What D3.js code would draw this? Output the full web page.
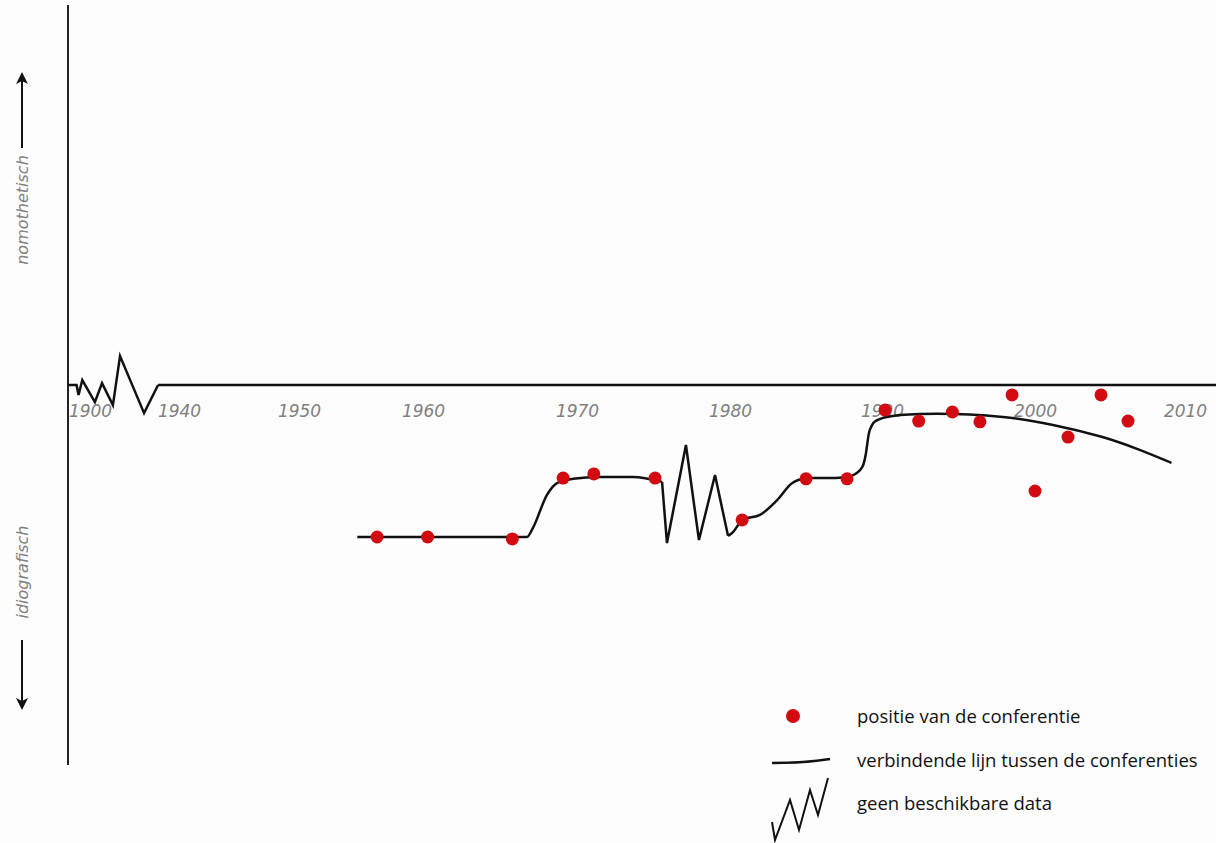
<!DOCTYPE html>
<html>
<head>
<meta charset="utf-8">
<script src="https://cdn.jsdelivr.net/npm/d3@7"></script>
<style>
  html, body { margin: 0; padding: 0; background: #fdfdfd; }
  #chart { width: 1216px; height: 843px; }
  .tick text { font-family: "DejaVu Sans", sans-serif; font-style: italic; fill: #808080; }
  .legend text { font-family: "Open Sans", sans-serif; fill: #111; }
</style>
</head>
<body>
<div id="chart"></div>
<script>
// x axis is hand drawn, so the year scale is piecewise
const yearKnots = [1890, 1900, 1940, 1950, 1960, 1970, 1980, 1990, 2000, 2010, 2013];
const tickYears = [1900, 1940, 1950, 1960, 1970, 1980, 1990, 2000, 2010];

// conferences: year, position (+ nomothetisch / - idiografisch)
const confYears = [1956.3, 1960.3, 1965.8, 1969.1, 1971.1, 1975.1, 1980.8, 1985.0, 1987.7,
  1990.2, 1992.4, 1994.6, 1996.4, 1998.5, 2000.0, 2002.2, 2004.4, 2006.2];
const confValues = [-4.0, -4.0, -4.05, -2.45, -2.34, -2.45, -3.55, -2.47, -2.47,
  -0.66, -0.95, -0.71, -0.97, -0.26, -2.79, -1.37, -0.26, -0.95];

// connecting line, part 1 (until 1975)
const line1Years = [1954.7, 1966.75, 1967.14, 1968.05, 1968.7, 1969.74, 1971.5, 1973.66, 1975.56];
const line1Values = [-4.0, -4.0, -3.76, -2.89, -2.58, -2.47, -2.42, -2.42, -2.55];

// connecting line, part 2 (from 1980)
const line2Years = [1979.87, 1980.2, 1980.85, 1981.97, 1983.1, 1984.1, 1985.0, 1985.9, 1988.0,
  1988.7, 1989.2, 1989.5, 1990.3, 1992.5, 1997.9, 2001.2, 2004.5, 2006.8, 2009.1];
const line2Values = [-3.97, -3.87, -3.55, -3.42, -3.03, -2.58, -2.45, -2.45, -2.39,
  -2.16, -1.18, -0.97, -0.84, -0.76, -0.84, -1.05, -1.37, -1.68, -2.05];

// no data: zigzags
const gapEarlyYears = [1890, 1893.9, 1894.8, 1896.5, 1902.2, 1905.4, 1910.3, 1913.5, 1924.3, 1930.6];
const gapEarlyValues = [0, 0, -0.26, 0.13, -0.45, 0.05, -0.53, 0.76, -0.74, 0];
const gapMidYears = [1975.56, 1975.88, 1977.12, 1977.97, 1979.02, 1979.87];
const gapMidValues = [-2.55, -4.16, -1.58, -4.08, -2.37, -3.97];

const legendLabels = ["positie van de conferentie", "verbindende lijn tussen de conferenties", "geen beschikbare data"];

const width = 1216, height = 843;
const svg = d3.select("#chart").append("svg")
  .attr("width", width).attr("height", height);

const x = d3.scaleLinear()
  .domain(yearKnots)
  .range([68, 90, 179, 299, 423, 577, 730, 882, 1035, 1185, 1231]);
const y = d3.scaleLinear().domain([-10, 10]).range([765, 5]);

// vertical axis
svg.append("line")
  .attr("x1", x(1890)).attr("x2", x(1890))
  .attr("y1", y(10)).attr("y2", y(-10))
  .attr("stroke", "#222").attr("stroke-width", 2);

// x axis labels
const xAxis = svg.append("g")
  .attr("transform", "translate(0," + (y(0) + 24) + ")")
  .call(d3.axisBottom(x).tickValues(tickYears).tickSize(0).tickFormat(d3.format("d")));
xAxis.select(".domain").remove();
xAxis.selectAll("text").attr("font-size", 17).attr("dy", "0.3em");

const straight = d3.line().x((d) => x(d[0])).y((d) => y(d[1]));
const monotone = d3.line().x((d) => x(d[0])).y((d) => y(d[1])).curve(d3.curveMonotoneX);
const catmull = d3.line().x((d) => x(d[0])).y((d) => y(d[1])).curve(d3.curveCatmullRom);
const zip = (a, b) => a.map((v, i) => [v, b[i]]);

// baseline
svg.append("path")
  .attr("d", straight([[gapEarlyYears[gapEarlyYears.length - 1], 0], [2013, 0]]))
  .attr("fill", "none").attr("stroke", "#111").attr("stroke-width", 2.5);

[zip(gapEarlyYears, gapEarlyValues), zip(gapMidYears, gapMidValues)].forEach((pts) => {
  svg.append("path").attr("d", straight(pts))
    .attr("fill", "none").attr("stroke", "#111").attr("stroke-width", 2.5)
    .attr("stroke-linejoin", "miter");
});

svg.append("path").attr("d", monotone(zip(line1Years, line1Values)))
  .attr("fill", "none").attr("stroke", "#111").attr("stroke-width", 2.5);
svg.append("path").attr("d", catmull(zip(line2Years, line2Values)))
  .attr("fill", "none").attr("stroke", "#111").attr("stroke-width", 2.5);

svg.append("g").selectAll("circle")
  .data(zip(confYears, confValues))
  .enter().append("circle")
  .attr("cx", (d) => x(d[0]))
  .attr("cy", (d) => y(d[1]))
  .attr("r", 6.5)
  .attr("fill", "#d20a11");

// y axis direction labels
svg.append("defs").append("marker")
  .attr("id", "arrow").attr("viewBox", "0 0 10 10")
  .attr("refX", 5).attr("refY", 5)
  .attr("markerWidth", 6.5).attr("markerHeight", 6)
  .attr("orient", "auto")
  .append("path").attr("d", "M0,0 L10,5 L0,10 L2.5,5 Z").attr("fill", "#111");

svg.append("line").attr("x1", 22).attr("x2", 22).attr("y1", 148).attr("y2", 78)
  .attr("stroke", "#111").attr("stroke-width", 2).attr("marker-end", "url(#arrow)");
svg.append("line").attr("x1", 22).attr("x2", 22).attr("y1", 640).attr("y2", 704)
  .attr("stroke", "#111").attr("stroke-width", 2).attr("marker-end", "url(#arrow)");

[["nomothetisch", 210], ["idiografisch", 572]].forEach(([t, cy]) => {
  svg.append("text")
    .attr("transform", "translate(28," + cy + ") rotate(-90)")
    .attr("text-anchor", "middle")
    .attr("font-family", "DejaVu Sans, sans-serif")
    .attr("font-style", "italic")
    .attr("font-size", 16)
    .attr("fill", "#808080")
    .text(t);
});

// legend
const legend = svg.append("g").attr("class", "legend");
legend.append("circle").attr("cx", 793).attr("cy", 716).attr("r", 7).attr("fill", "#d20a11");
legend.append("path").attr("d", "M772,763 Q805,763 830,759")
  .attr("fill", "none").attr("stroke", "#111").attr("stroke-width", 2.5);
legend.append("path").attr("d", "M772,822 L775,840 L790,800 L799,830 L810,790 L818,815 L828,778")
  .attr("fill", "none").attr("stroke", "#111").attr("stroke-width", 2);
legend.selectAll("text")
  .data(legendLabels)
  .enter().append("text")
  .attr("x", 857)
  .attr("y", (d, i) => [723, 767, 810][i])
  .attr("font-size", 18.5)
  .text((d) => d);
</script>
</body>
</html>
